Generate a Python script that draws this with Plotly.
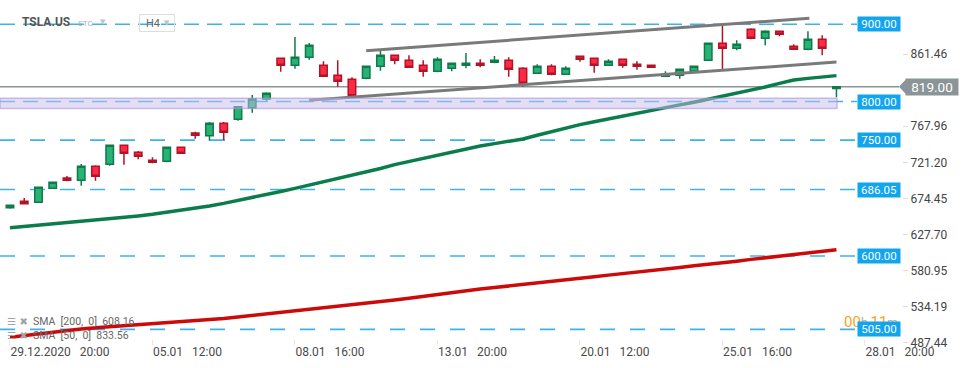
import plotly.graph_objects as go

# ---------------- data ----------------
candle_idx = list(range(59))
opens = [662.5, 670.8, 669.5, 687.7, 701.0, 698.0, 716.1, 718.7, 743.3, 734.3,
         723.9, 722.6, 740.7, 759.3, 755.8, 771.8, 777.0, 792.0, 803.3, 856.0,
         846.9, 857.3, 846.9, 834.0, 828.8, 830.1, 845.6, 859.9, 853.4, 846.9,
         839.2, 843.1, 846.9, 849.5, 850.8, 853.4, 843.1, 836.6, 845.6, 835.3,
         858.6, 856.0, 846.9, 854.7, 848.2, 846.9, 832.7, 834.0, 839.2, 853.4,
         875.4, 869.0, 893.6, 881.9, 891.0, 871.5, 867.7, 880.6, 816.8]
highs = [665.8, 675.1, 689.5, 695.8, 703.6, 719.1, 717.4, 743.5, 743.5, 736.0,
         727.8, 741.0, 741.0, 761.0, 773.5, 773.5, 794.2, 808.5, 812.0, 856.5,
         883.6, 875.8, 852.1, 853.4, 831.4, 845.8, 866.4, 860.2, 859.9, 853.4,
         857.3, 850.0, 862.9, 854.7, 859.0, 857.3, 844.4, 848.2, 848.2, 845.6,
         859.0, 856.3, 854.7, 855.0, 852.1, 847.2, 839.2, 842.0, 846.0, 875.6,
         898.7, 879.3, 894.9, 892.3, 891.3, 874.1, 891.0, 885.8, 819.5]
lows = [661.2, 667.5, 669.0, 687.5, 696.7, 691.0, 697.5, 716.9, 718.2, 725.2,
        720.0, 721.3, 732.8, 751.9, 749.3, 750.2, 775.2, 785.5, 801.1, 838.7,
        842.5, 854.2, 832.0, 819.2, 806.3, 829.0, 839.9, 848.2, 844.0, 832.2,
        837.9, 839.2, 843.1, 844.3, 849.5, 832.2, 819.2, 836.0, 834.0, 835.0,
        851.6, 837.4, 846.5, 843.8, 841.2, 844.0, 832.5, 829.6, 837.9, 853.0,
        840.8, 866.4, 880.6, 872.8, 884.5, 867.5, 866.4, 859.9, 805.5]
closes = [665.6, 667.7, 689.0, 695.4, 698.0, 716.1, 703.2, 743.3, 733.0, 729.1,
          721.3, 740.7, 733.0, 756.3, 771.8, 760.2, 793.3, 803.3, 810.7, 846.9,
          857.3, 872.8, 832.7, 826.2, 807.6, 845.6, 859.9, 853.4, 844.3, 839.2,
          854.7, 849.5, 849.5, 846.9, 853.4, 841.8, 823.6, 845.6, 835.3, 843.1,
          854.7, 846.9, 852.1, 846.9, 845.6, 844.3, 835.3, 841.8, 845.6, 875.4,
          869.0, 874.1, 881.9, 891.0, 887.1, 867.7, 880.6, 869.0, 819.0]

sma50 = [636.6, 638.2, 639.7, 641.3, 643.0, 644.5, 646.1, 647.9, 649.8, 651.8,
         653.9, 656.5, 659.0, 661.6, 664.7, 668.1, 671.7, 675.6, 679.5, 683.5,
         687.5, 691.7, 695.7, 699.8, 703.8, 708.1, 713.3, 718.3, 722.4, 726.0,
         729.7, 733.6, 738.0, 742.4, 745.5, 748.5, 751.5, 756.3, 761.1, 766.0,
         770.1, 773.9, 777.7, 781.5, 785.2, 788.7, 792.2, 795.7, 799.2, 803.0,
         806.9, 810.8, 814.7, 818.8, 823.5, 827.9, 830.0, 831.9, 833.56]
sma200 = [494.7, 497.0, 499.4, 501.8, 504.2, 505.5, 506.9, 508.2, 509.5, 510.9,
          512.2, 513.3, 514.6, 515.8, 517.1, 519.0, 521.0, 522.9, 524.9, 526.8,
          528.9, 531.0, 532.9, 534.9, 536.8, 538.6, 540.4, 542.9, 545.3, 547.8,
          550.3, 552.7, 555.3, 557.3, 559.1, 561.0, 562.8, 564.6, 566.4, 568.6,
          570.8, 573.0, 575.2, 577.4, 579.6, 581.6, 583.4, 585.2, 587.2, 589.0,
          590.9, 593.3, 595.6, 597.8, 600.1, 602.2, 604.1, 606.1, 608.16]

channel_upper_x = [25.0, 56.1]
channel_upper_y = [865.8, 907.8]
channel_lower_x = [21.0, 58.0]
channel_lower_y = [801.6, 851.2]

levels = [900.00, 800.00, 750.00, 686.05, 600.00, 505.00]
zone = [790.9, 804.4]
last_price = 819.00

x_tick_idx = [0, 10, 20, 30, 40, 50, 60]
x_tick_labels = ["29.12.2020", "05.01", "08.01", "13.01", "20.01", "25.01", "28.01"]
x_tick_times = ["20:00", "12:00", "16:00", "20:00", "12:00", "16:00", "20:00"]
y_tick_vals = [487.44, 534.19, 580.95, 627.70, 674.45, 721.20, 767.96, 861.46]

symbol = "TSLA.US"
timeframe = "H4"
sma_labels = ["SMA  [200,  0]  608.16", "SMA  [50,  0]  833.56"]

# ---------------- layout geometry ----------------
W, H = 970, 368
ML, MR, MT, MB = 0, 68, 0, 23
PW, PH = W - ML - MR, H - MT - MB
X_RANGE = [-0.7, 62.6]
Y_RANGE = [484.7, 931.5]

def px_x(p):
    return p / PW

def px_y(p):
    return 1 - p / PH

FONT = "Roboto, Arial, sans-serif"

fig = go.Figure()

fig.add_trace(go.Candlestick(
    x=candle_idx, open=opens, high=highs, low=lows, close=closes,
    increasing=dict(fillcolor="#27b276", line=dict(color="#0f7a4b", width=1.5)),
    decreasing=dict(fillcolor="#fd2a44", line=dict(color="#b21329", width=1.5)),
    whiskerwidth=0, showlegend=False, hoverinfo="skip"))

fig.add_trace(go.Scatter(x=candle_idx, y=sma50, mode="lines",
                         line=dict(color="#0b7d4d", width=3.5),
                         showlegend=False, hoverinfo="skip"))
fig.add_trace(go.Scatter(x=candle_idx, y=sma200, mode="lines",
                         line=dict(color="#cc0a0a", width=3.5),
                         showlegend=False, hoverinfo="skip"))
fig.add_trace(go.Scatter(x=channel_upper_x, y=channel_upper_y, mode="lines",
                         line=dict(color="#7a7a7a", width=3),
                         showlegend=False, hoverinfo="skip"))
fig.add_trace(go.Scatter(x=channel_lower_x, y=channel_lower_y, mode="lines",
                         line=dict(color="#7a7a7a", width=3),
                         showlegend=False, hoverinfo="skip"))

shapes = []
# current price line
shapes.append(dict(type="line", xref="paper", yref="y", x0=0, x1=px_x(899),
                   y0=last_price, y1=last_price, layer="below",
                   line=dict(color="#8c9394", width=1.5)))
# level lines
for v in levels:
    dash = "15px,8px" if v in (900.00, 800.00) else "15px,15px"
    shapes.append(dict(type="line", xref="paper", yref="y", x0=0, x1=px_x(857),
                       y0=v, y1=v, layer="below",
                       line=dict(color="#3db2ef", width=1.6, dash=dash)))
# zone band (drawn above)
shapes.append(dict(type="rect", xref="paper", yref="y", x0=0, x1=px_x(837),
                   y0=zone[0], y1=zone[1], layer="above",
                   fillcolor="rgba(200,188,236,0.5)",
                   line=dict(color="rgba(170,150,215,0.6)", width=1.5)))
# arrow of the price tag
ah = 8 * (Y_RANGE[1] - Y_RANGE[0]) / PH
shapes.append(dict(type="path", xref="paper", yref="y", layer="above",
                   path=f"M {px_x(899)},{last_price} L {px_x(906.5)},{last_price + ah} "
                        f"L {px_x(906.5)},{last_price - ah} Z",
                   fillcolor="#8b9597", line=dict(width=0)))
# H4 box
shapes.append(dict(type="rect", xref="paper", yref="paper", x0=px_x(139.5), x1=px_x(174.5),
                   y0=px_y(31.5), y1=px_y(14.5), layer="above",
                   fillcolor="rgba(0,0,0,0)", line=dict(color="#dddddd", width=1)))

ann = []
# top-left header
ann.append(dict(xref="paper", yref="paper", x=px_x(20), y=px_y(22.5), xanchor="left",
                yanchor="middle", text=f"<b>{symbol}</b>", showarrow=False,
                font=dict(family=FONT, size=12, color="#555555")))
ann.append(dict(xref="paper", yref="paper", x=px_x(76), y=px_y(23.5), xanchor="left",
                yanchor="middle", text="STC", showarrow=False,
                font=dict(family=FONT, size=8, color="#a9b0b8")))
ann.append(dict(xref="paper", yref="paper", x=px_x(98), y=px_y(21.5), xanchor="left",
                yanchor="middle", text="▼", showarrow=False,
                font=dict(family="DejaVu Sans", size=7, color="#c4c4c4")))
ann.append(dict(xref="paper", yref="paper", x=px_x(144), y=px_y(23.5), xanchor="left",
                yanchor="middle", text=timeframe, showarrow=False,
                font=dict(family=FONT, size=11, color="#666666")))
ann.append(dict(xref="paper", yref="paper", x=px_x(162), y=px_y(23), xanchor="left",
                yanchor="middle", text="▼", showarrow=False,
                font=dict(family="DejaVu Sans", size=7, color="#c4c4c4")))

# SMA legend rows
for row, (lab, yy) in enumerate(zip(sma_labels, [321.5, 335.5])):
    ann.append(dict(xref="paper", yref="paper", x=px_x(5), y=px_y(yy), xanchor="left",
                    yanchor="middle", text="<b>☰ ✖</b>", showarrow=False,
                    font=dict(family="DejaVu Sans", size=10, color="#a3a3a3")))
    ann.append(dict(xref="paper", yref="paper", x=px_x(31), y=px_y(yy), xanchor="left",
                    yanchor="middle", text=lab.replace("  ", "\u00a0 "), showarrow=False,
                    font=dict(family=FONT, size=10.5, color="#666666")))

# countdown
ann.append(dict(xref="paper", yref="paper", x=px_x(842), y=px_y(322), xanchor="left",
                yanchor="middle", showarrow=False,
                text="<span style='color:#f7a21b;font-size:15px'>00</span>"
                     "<span style='color:#a8a8a8'>h</span> "
                     "<span style='color:#f7a21b;font-size:15px'>11</span>"
                     "<span style='color:#a8a8a8'>m</span>",
                font=dict(family=FONT, size=12, color="#a8a8a8")))

# level tags
for v in levels:
    ann.append(dict(xref="paper", yref="y", x=px_x(879), y=v, xanchor="center",
                    yanchor="middle", text=f"{v:.2f}", showarrow=False,
                    width=42, height=14, bgcolor="#10a5ec", borderpad=0,
                    font=dict(family=FONT, size=11.5, color="#ffffff")))
# current price tag
ann.append(dict(xref="paper", yref="y", x=px_x(932), y=last_price, xanchor="center",
                yanchor="middle", text=f"{last_price:.2f}", showarrow=False,
                width=52, height=16, bgcolor="#8b9597", borderpad=0,
                font=dict(family=FONT, size=13.5, color="#ffffff")))

x_text = [f"{d}\u00a0\u00a0\u00a0{t}" for d, t in zip(x_tick_labels, x_tick_times)]

fig.update_layout(
    width=W, height=H,
    margin=dict(l=ML, r=MR, t=MT, b=MB, pad=0),
    paper_bgcolor="white", plot_bgcolor="white",
    showlegend=False, boxgap=0.25,
    font=dict(family=FONT, size=12, color="#444444"),
    shapes=shapes, annotations=ann,
    xaxis=dict(range=X_RANGE, rangeslider=dict(visible=False), showgrid=False,
               zeroline=False, showline=False, tickmode="array",
               tickvals=x_tick_idx, ticktext=x_text, ticks="inside", ticklen=5,
               tickcolor="#e6e6e6", ticklabelposition="outside right",
               ticklabelstandoff=-2,
               tickfont=dict(family=FONT, size=12, color="#4a4a4a")),
    yaxis=dict(range=Y_RANGE, side="right", showgrid=False, zeroline=False,
               showline=False, tickmode="array", tickvals=y_tick_vals,
               ticktext=[f"{v:.2f}" for v in y_tick_vals], ticks="outside",
               ticklen=5, tickcolor="#dddddd",
               tickfont=dict(family=FONT, size=12, color="#444444")),
)

fig.write_html("out.html", config={"displayModeBar": False},
               post_script="document.body.style.margin='0px';")
